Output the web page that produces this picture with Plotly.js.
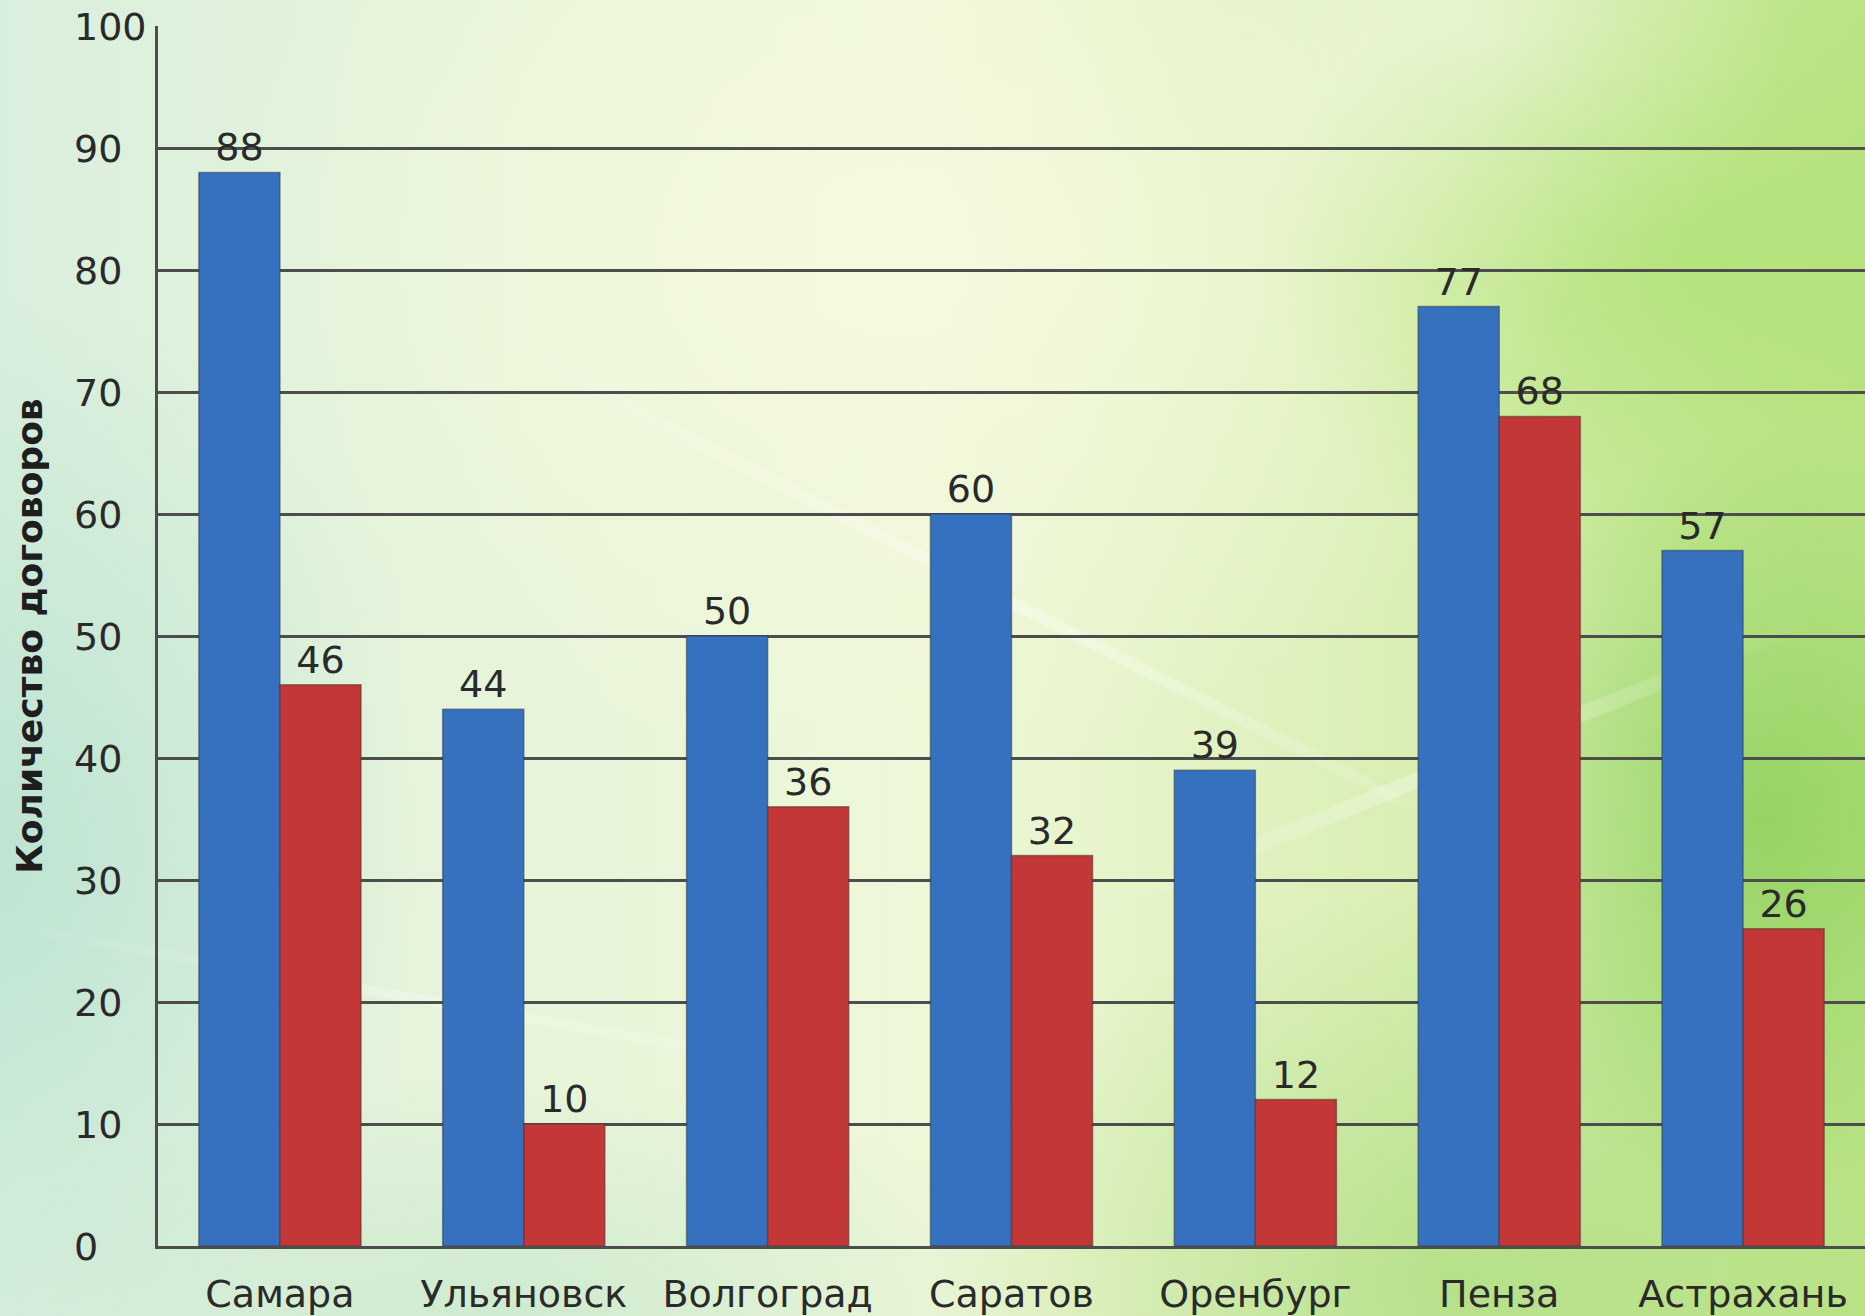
<!DOCTYPE html>
<html>
<head>
<meta charset="utf-8">
<script src="https://cdn.plot.ly/plotly-3.0.1.min.js"></script>
<style>
  html, body { margin: 0; padding: 0; }
  body {
    position: relative;
    width: 1865px; height: 1316px; overflow: hidden;
    background:
      radial-gradient(ellipse 420px 560px at 1760px 820px, rgba(110,195,60,0.55), rgba(110,195,60,0) 70%),
      radial-gradient(ellipse 560px 480px at 1700px 260px, rgba(165,222,100,0.55), rgba(165,222,100,0) 75%),
      radial-gradient(ellipse 700px 520px at 1450px 1280px, rgba(150,210,100,0.5), rgba(150,210,100,0) 75%),
      radial-gradient(ellipse 380px 320px at 1490px 40px, rgba(240,248,225,0.8), rgba(240,248,225,0) 80%),
      radial-gradient(ellipse 900px 700px at 900px 250px, rgba(245,250,222,0.9), rgba(245,250,222,0) 75%),
      radial-gradient(ellipse 520px 700px at 0px 850px, rgba(185,226,208,0.85), rgba(185,226,208,0) 80%),
      radial-gradient(ellipse 700px 300px at 500px 1316px, rgba(190,228,200,0.6), rgba(190,228,200,0) 80%),
      linear-gradient(90deg, #d9efdd 0%, #e6f4da 25%, #eef7d8 50%, #d9efb4 75%, #bde488 100%);
  }
  .streak {
    position: absolute; pointer-events: none;
    background: linear-gradient(90deg, rgba(255,255,255,0), rgba(255,255,255,0.55), rgba(255,255,255,0));
    transform-origin: 0 0;
  }
  #chart { position: relative; width: 1865px; height: 1316px; }
</style>
</head>
<body>
<div class="streak" style="left:520px; top:345px; width:1150px; height:12px; transform: rotate(27deg); opacity:0.6;"></div>
<div class="streak" style="left:1100px; top:900px; width:760px; height:16px; transform: rotate(-22deg); opacity:0.6;"></div>
<div class="streak" style="left:0px; top:920px; width:900px; height:10px; transform: rotate(10deg); opacity:0.5;"></div>
<div id="chart"></div>
<script>
const categories = ['Самара', 'Ульяновск', 'Волгоград', 'Саратов', 'Оренбург', 'Пенза', 'Астрахань'];
const seriesBlue = [88, 44, 50, 60, 39, 77, 57];
const seriesRed  = [46, 10, 36, 32, 12, 68, 26];
const yTickVals = [0, 10, 20, 30, 40, 50, 60, 70, 80, 90, 100];
const yTitle = 'Количество договоров';

const FONT = 'DejaVu Sans, Verdana, sans-serif';
const labelFont = { family: FONT, size: 38, color: '#2a2a2a' };

const traces = [
  {
    type: 'bar', x: categories, y: seriesBlue, name: 'blue',
    marker: { color: '#3671c0', line: { color: 'rgba(50,60,80,0.55)', width: 1.5 } },
    text: seriesBlue.map(String), textposition: 'outside', cliponaxis: false,
    textfont: labelFont, hoverinfo: 'x+y'
  },
  {
    type: 'bar', x: categories, y: seriesRed, name: 'red',
    marker: { color: '#c33736', line: { color: 'rgba(80,50,50,0.55)', width: 1.5 } },
    text: seriesRed.map(String), textposition: 'outside', cliponaxis: false,
    textfont: labelFont, hoverinfo: 'x+y'
  }
];

// Left-aligned y tick labels (as in the reference), placed via the y scale
const yTickAnnotations = yTickVals.map(v => ({
  xref: 'paper', yref: 'y', x: 0, y: v,
  xanchor: 'left', yanchor: 'middle', xshift: -86, yshift: -1,
  text: String(v), showarrow: false,
  font: { family: FONT, size: 38, color: '#2a2a2a' }
}));

const layout = {
  width: 1865, height: 1316,
  margin: { l: 158, r: 0, t: 26, b: 70, pad: 0 },
  paper_bgcolor: 'rgba(0,0,0,0)',
  plot_bgcolor: 'rgba(0,0,0,0)',
  showlegend: false,
  barmode: 'group',
  bargap: 0.335,
  bargroupgap: 0,
  font: { family: FONT, color: '#2a2a2a' },
  xaxis: {
    type: 'category',
    range: [-0.5, 6.5],
    showline: true, linecolor: '#4d4d4d', linewidth: 3,
    showgrid: false, zeroline: false,
    ticks: '', ticklabelstandoff: 12,
    tickfont: { family: FONT, size: 38, color: '#2a2a2a' }
  },
  yaxis: {
    range: [0, 100],
    tickvals: yTickVals,
    showticklabels: false,
    showline: true, linecolor: '#4d4d4d', linewidth: 3,
    showgrid: true, gridcolor: '#4d4d4d', gridwidth: 3,
    zeroline: false,
    ticks: '',
    title: { text: yTitle, standoff: 102, font: { family: FONT, size: 36, color: '#1e1e1e', weight: 'bold' } }
  },
  annotations: yTickAnnotations
};

Plotly.newPlot('chart', traces, layout, { displayModeBar: false, staticPlot: true });
</script>
</body>
</html>
